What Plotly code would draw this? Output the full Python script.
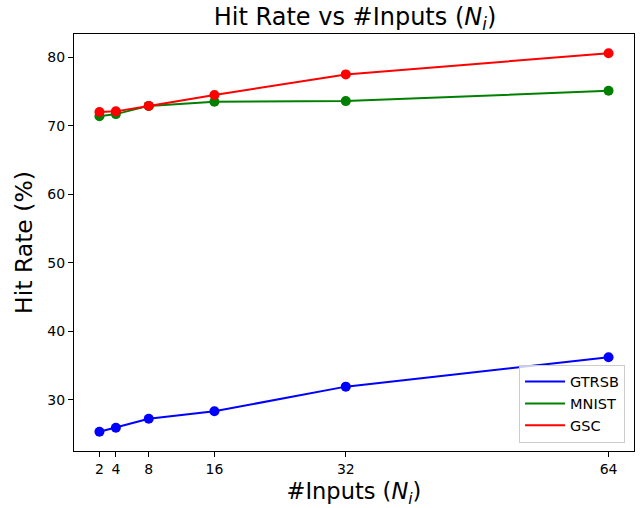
import plotly.graph_objects as go

inputs = [2, 4, 8, 16, 32, 64]
gtrsb = [25.3, 25.9, 27.2, 28.3, 31.9, 36.2]
mnist = [71.4, 71.7, 72.9, 73.5, 73.6, 75.1]
gsc = [72.0, 72.1, 72.9, 74.5, 77.5, 80.6]
series_names = ["GTRSB", "MNIST", "GSC"]
series_colors = ["#0000ff", "#008000", "#ff0000"]
tick_vals_x = [2, 4, 8, 16, 32, 64]
tick_vals_y = [30, 40, 50, 60, 70, 80]

fig = go.Figure()
for name, vals, col in zip(series_names, [gtrsb, mnist, gsc], series_colors):
    fig.add_trace(go.Scatter(x=inputs, y=vals, mode="lines+markers", name=name,
                             line=dict(color=col, width=2),
                             marker=dict(color=col, size=10), showlegend=False))
    fig.add_trace(go.Scatter(x=[None], y=[None], mode="lines", name=name,
                             line=dict(color=col, width=2)))

font = "DejaVu Sans"
fig.update_layout(
    width=642, height=508,
    margin=dict(l=74, r=8, t=34, b=57),
    paper_bgcolor="white", plot_bgcolor="white",
    font=dict(family=font, color="black", size=14),
    title=dict(text="Hit Rate vs #Inputs (<i>N</i><sub><i>i</i></sub>)", x=0.553, xanchor="center",
               y=0.968, yanchor="middle", font=dict(size=24, family=font)),
    showlegend=True,
    legend=dict(x=0.984, y=0.02, xanchor="right", yanchor="bottom",
                bordercolor="#cccccc", borderwidth=1, bgcolor="rgba(255,255,255,0.8)",
                font=dict(size=14.5, family=font), itemwidth=40, tracegroupgap=0),
)
fig.update_xaxes(range=[-1.1, 67.1], tickvals=tick_vals_x, ticks="outside", ticklen=5,
                 tickcolor="black", showline=True, linecolor="black", linewidth=1,
                 mirror=True, showgrid=False, zeroline=False, automargin=False,
                 title=dict(text="#Inputs (<i>N</i><sub><i>i</i></sub>)", font=dict(size=22.5, family=font), standoff=8),
                 tickfont=dict(size=14))
fig.update_yaxes(range=[22.5, 83.4], tickvals=tick_vals_y, ticks="outside", ticklen=5,
                 tickcolor="black", showline=True, linecolor="black", linewidth=1,
                 mirror=True, showgrid=False, zeroline=False, automargin=False,
                 title=dict(text="Hit Rate (%)", font=dict(size=23.5, family=font), standoff=8),
                 tickfont=dict(size=14))
fig.write_html("out.html", config={"displayModeBar": False},
               post_script="document.body.style.margin='0';")
